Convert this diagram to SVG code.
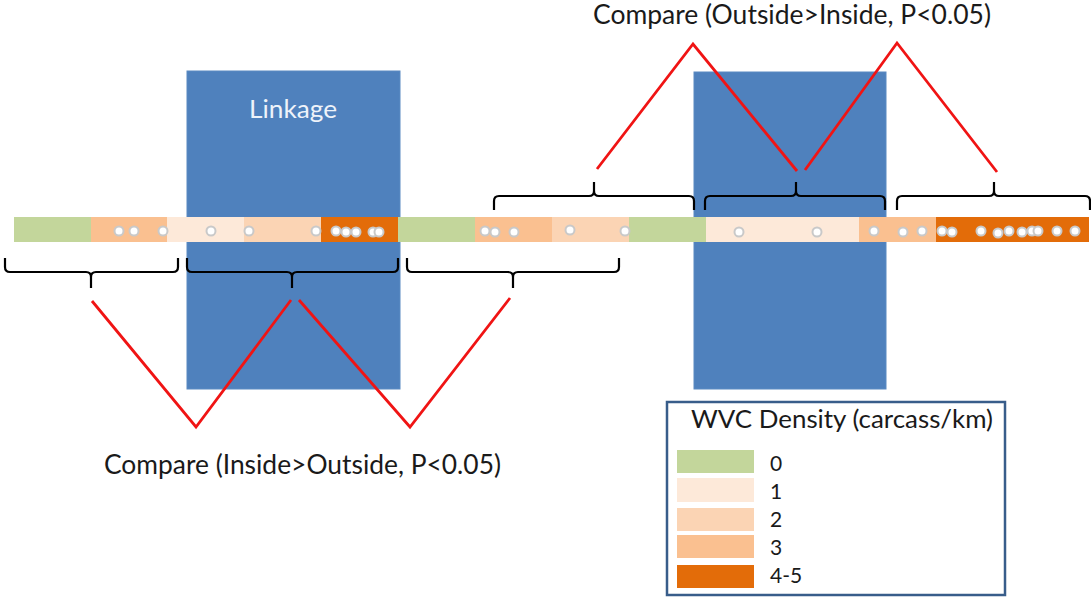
<svg xmlns="http://www.w3.org/2000/svg" width="1091" height="598" viewBox="0 0 1091 598">
<style>
.blk{fill:#4F81BD;stroke:#5B8AC2;stroke-width:1}
.c0{fill:#C3D69B}.c1{fill:#FDE9D9}.c2{fill:#FBD4B4}.c3{fill:#FAC090}.c4{fill:#E36C09}
.dot{fill:#FFFFFF;stroke:#C9C9C9;stroke-width:2}
.brace{fill:none;stroke:#000000;stroke-width:2.2;stroke-linejoin:round}
.red{fill:none;stroke:#F01414;stroke-width:2.8}
.t{font-family:Lato,"Open Sans","Liberation Sans",sans-serif;fill:#1A1A1A}
</style>
<rect width="1091" height="598" fill="#FFFFFF"/>
<g id="linkage1"><rect class="blk" x="187" y="71" width="213" height="318"/>
<text class="t" x="293" y="118" font-size="25" text-anchor="middle" style="fill:#EEF3FA" textLength="88" lengthAdjust="spacingAndGlyphs">Linkage</text></g>
<g id="linkage2"><rect class="blk" x="694" y="72" width="192" height="317"/></g>
<g id="road">
<rect class="c0" x="14" y="217" width="77" height="25"/>
<rect class="c3" x="91" y="217" width="76" height="25"/>
<rect class="c1" x="167" y="217" width="77" height="25"/>
<rect class="c2" x="244" y="217" width="77" height="25"/>
<rect class="c4" x="321" y="217" width="77" height="25"/>
<rect class="c0" x="398" y="217" width="77" height="25"/>
<rect class="c3" x="475" y="217" width="77" height="25"/>
<rect class="c2" x="552" y="217" width="77" height="25"/>
<rect class="c0" x="629" y="217" width="77" height="25"/>
<rect class="c1" x="706" y="217" width="153" height="25"/>
<rect class="c3" x="859" y="217" width="77" height="25"/>
<rect class="c4" x="936" y="217" width="153" height="25"/>
</g>
<g id="carcasses">
<circle class="dot" cx="119" cy="231" r="4.5"/><circle class="dot" cx="134" cy="231" r="4.5"/><circle class="dot" cx="163" cy="231" r="4.5"/>
<circle class="dot" cx="211" cy="231" r="4.5"/><circle class="dot" cx="249" cy="231" r="4.5"/><circle class="dot" cx="316" cy="231" r="4.5"/>
<circle class="dot" cx="336" cy="231" r="4.5"/><circle class="dot" cx="346" cy="232" r="4.5"/><circle class="dot" cx="356" cy="232" r="4.5"/><circle class="dot" cx="373" cy="232" r="4.5"/><circle class="dot" cx="379" cy="232" r="4.5"/>
<circle class="dot" cx="485" cy="231" r="4.5"/><circle class="dot" cx="495" cy="232" r="4.5"/><circle class="dot" cx="514" cy="232" r="4.5"/>
<circle class="dot" cx="570" cy="230" r="4.5"/><circle class="dot" cx="625" cy="231" r="4.5"/>
<circle class="dot" cx="739" cy="232" r="4.5"/><circle class="dot" cx="817" cy="232" r="4.5"/><circle class="dot" cx="874" cy="231" r="4.5"/>
<circle class="dot" cx="903" cy="232" r="4.5"/><circle class="dot" cx="922" cy="231" r="4.5"/><circle class="dot" cx="942" cy="231" r="4.5"/><circle class="dot" cx="952" cy="232" r="4.5"/>
<circle class="dot" cx="981" cy="231" r="4.5"/><circle class="dot" cx="998" cy="233" r="4.5"/><circle class="dot" cx="1009" cy="231" r="4.5"/><circle class="dot" cx="1022" cy="232" r="4.5"/>
<circle class="dot" cx="1032" cy="231" r="4.5"/><circle class="dot" cx="1038" cy="231" r="4.5"/><circle class="dot" cx="1057" cy="231" r="4.5"/><circle class="dot" cx="1075" cy="231" r="4.5"/>
</g>
<g id="connectors">
<path class="brace" d="M5,258 L5,267 Q5,272 10,272 L86,272 Q91,272 91,277 L91,288 M91,277 Q91,272 96,272 L173,272 Q178,272 178,267 L178,258"/>
<path class="brace" d="M187,258 L187,267 Q187,272 192,272 L287,272 Q292,272 292,277 L292,288 M292,277 Q292,272 297,272 L393,272 Q398,272 398,267 L398,258"/>
<path class="brace" d="M407,258 L407,267 Q407,272 412,272 L508,272 Q513,272 513,277 L513,288 M513,277 Q513,272 518,272 L614,272 Q619,272 619,267 L619,258"/>
<path class="brace" d="M494,210 L494,201 Q494,196 499,196 L589,196 Q594,196 594,191 L594,182 M594,191 Q594,196 599,196 L689,196 Q694,196 694,201 L694,210"/>
<path class="brace" d="M705,210 L705,201 Q705,196 710,196 L791,196 Q796,196 796,191 L796,182 M796,191 Q796,196 801,196 L880,196 Q885,196 885,201 L885,210"/>
<path class="brace" d="M897,210 L897,201 Q897,196 902,196 L989,196 Q994,196 994,191 L994,182 M994,191 Q994,196 999,196 L1085,196 Q1090,196 1090,201 L1090,210"/>
<polyline class="red" points="92,301 196,427 291,300"/>
<polyline class="red" points="299,300 410,427 510,298"/>
<polyline class="red" points="597,169 693,44 797,171"/>
<polyline class="red" points="805,170 897,43 997,172"/>
</g>
<g id="label-top"><text class="t" x="593" y="24" font-size="26" textLength="398" lengthAdjust="spacingAndGlyphs">Compare (Outside&gt;Inside, P&lt;0.05)</text></g>
<g id="label-bottom"><text class="t" x="104" y="474" font-size="26" textLength="397" lengthAdjust="spacingAndGlyphs">Compare (Inside&gt;Outside, P&lt;0.05)</text></g>
<g id="legend">
<rect x="667" y="402" width="338" height="193" fill="#FFFFFF" stroke="#385D8A" stroke-width="2.5"/>
<text class="t" x="691" y="428" font-size="25" textLength="302" lengthAdjust="spacingAndGlyphs">WVC Density (carcass/km)</text>
<rect class="c0" x="677" y="450" width="77" height="23"/>
<rect class="c1" x="677" y="478" width="77" height="24"/>
<rect class="c2" x="677" y="508" width="77" height="23"/>
<rect class="c3" x="677" y="535" width="77" height="23"/>
<rect class="c4" x="677" y="565" width="77" height="23"/>
<text class="t" x="770" y="471" font-size="21">0</text>
<text class="t" x="770" y="499" font-size="21">1</text>
<text class="t" x="770" y="527" font-size="21">2</text>
<text class="t" x="770" y="555" font-size="21">3</text>
<text class="t" x="770" y="583" font-size="21">4-5</text>
</g>
</svg>
